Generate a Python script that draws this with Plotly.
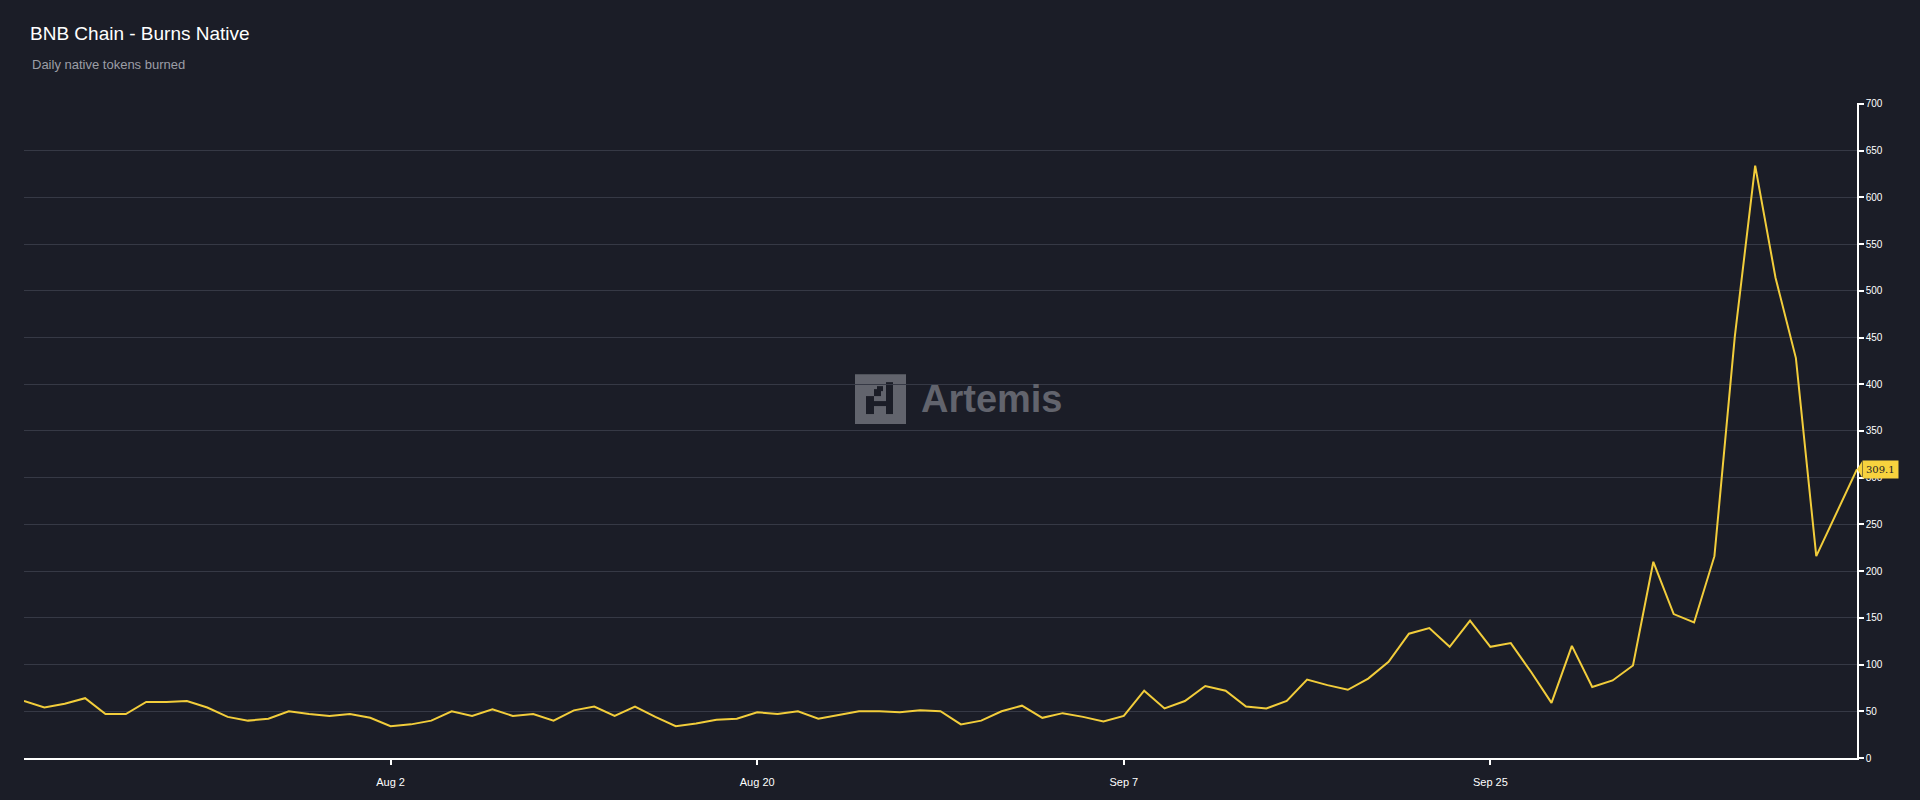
import pandas as pd
import plotly.graph_objects as go

# ---------------- data ----------------
start_date = "2024-07-15"
burns = [
    61, 54, 58, 64, 47, 47, 60, 60, 61, 54,
    44, 40, 42, 50, 47, 45, 47, 43, 34, 36,
    40, 50, 45, 52, 45, 47, 40, 51, 55, 45,
    55, 44, 34, 37, 41, 42, 49, 47, 50, 42,
    46, 50, 50, 49, 51, 50, 36, 40, 50, 56,
    43, 48, 44, 39, 45, 72, 53, 61, 77, 72,
    55, 53, 61, 84, 78, 73, 85, 103, 133, 139,
    119, 147, 119, 123, 92, 59, 120, 76, 83, 99,
    210, 154, 145, 216, 451, 634, 514, 428, 216, 262,
    309.1,
]
dates = pd.date_range(start_date, periods=len(burns), freq="D")
tick_dates = ["2024-08-02", "2024-08-20", "2024-09-07", "2024-09-25"]
tick_labels = ["Aug 2", "Aug 20", "Sep 7", "Sep 25"]
y_ticks = list(range(0, 701, 50))

title_text = "BNB Chain - Burns Native"
subtitle_text = "Daily native tokens burned"
watermark_text = "Artemis"

# ---------------- style ----------------
BG = "#1b1d27"
GRID = "#363945"
LINE = "#f2cd3b"
LABEL_BG = "#f7d23e"
FONT = "Liberation Sans"
WM = "#62646d"

W, H = 1920, 800
ML, MR, MT, MB = 24, 63, 103, 40
PW, PH = W - ML - MR, H - MT - MB


def px(x):
    return (x - ML) / PW


def py(y):
    return (H - MB - y) / PH


fig = go.Figure()
fig.add_trace(go.Scatter(
    x=dates, y=burns, mode="lines",
    line=dict(color=LINE, width=2),
    hoverinfo="x+y", showlegend=False,
))

shapes = []
# watermark icon
shapes.append(dict(type="rect", xref="paper", yref="paper",
                   x0=px(855), x1=px(906), y0=py(425), y1=py(375),
                   fillcolor=WM, line=dict(width=0), layer="below"))
for (x0, x1, y0, y1) in [(866, 874, 397, 415), (874, 881, 390, 397),
                         (877, 883, 387, 392), (886, 893, 383, 415),
                         (874, 886, 402, 407)]:
    shapes.append(dict(type="rect", xref="paper", yref="paper",
                       x0=px(x0), x1=px(x1), y0=py(y1), y1=py(y0),
                       fillcolor=BG, line=dict(width=0), layer="below"))

# last value pointer
last_val = burns[-1]
dy = 8 * 700 / PH
dx = 5 / PW
shapes.append(dict(type="path", xref="paper", yref="y",
                   path=f"M 1,{last_val} L {1+dx},{last_val+dy} L {1+dx},{last_val-dy} Z",
                   fillcolor=LABEL_BG, line=dict(width=0)))

annotations = [
    dict(text=subtitle_text, xref="paper", yref="paper",
         x=px(30), y=py(64), xanchor="left", yanchor="middle",
         showarrow=False, font=dict(family=FONT, size=13, color="#9c9ea6")),
    dict(text=f"<b>{watermark_text}</b>", xref="paper", yref="paper",
         x=px(919), y=py(400), xanchor="left", yanchor="middle",
         showarrow=False, font=dict(family=FONT, size=38, color=WM)),
    dict(text=f"{last_val}", xref="paper", yref="y",
         x=1 + dx, y=last_val, xanchor="left", yanchor="middle",
         showarrow=False, bgcolor=LABEL_BG, borderpad=3,
         font=dict(family="DejaVu Serif", size=10, color="#1b1d27")),
]

fig.update_layout(
    width=W, height=H,
    margin=dict(l=ML, r=MR, t=MT, b=MB),
    paper_bgcolor=BG, plot_bgcolor=BG,
    font=dict(family=FONT, color="#ffffff"),
    title=dict(text=title_text, xref="container", yref="container",
               x=30 / W, y=1 - 33 / H, xanchor="left", yanchor="middle",
               font=dict(family=FONT, size=19, color="#ffffff")),
    shapes=shapes,
    annotations=annotations,
    showlegend=False,
)

fig.update_xaxes(
    type="date",
    range=[dates[0], dates[-1]],
    tickvals=tick_dates, ticktext=tick_labels,
    ticks="outside", ticklen=5, tickwidth=2, tickcolor="#ffffff",
    tickfont=dict(family=FONT, size=11, color="#ffffff"),
    ticklabelstandoff=8,
    showline=True, linecolor="#ffffff", linewidth=2,
    showgrid=False, zeroline=False,
)
fig.update_yaxes(
    side="right",
    range=[0, 701],
    tickvals=y_ticks,
    ticks="outside", ticklen=5, tickwidth=1.5, tickcolor="#ffffff",
    tickfont=dict(family=FONT, size=10, color="#ffffff"),
    showline=True, linecolor="#ffffff", linewidth=1.5,
    showgrid=True, gridcolor=GRID, gridwidth=1,
    zeroline=False,
)

fig.write_html(
    "out.html",
    config={"displayModeBar": False},
    post_script="document.body.style.margin='0';document.body.style.background='#1b1d27';",
)
